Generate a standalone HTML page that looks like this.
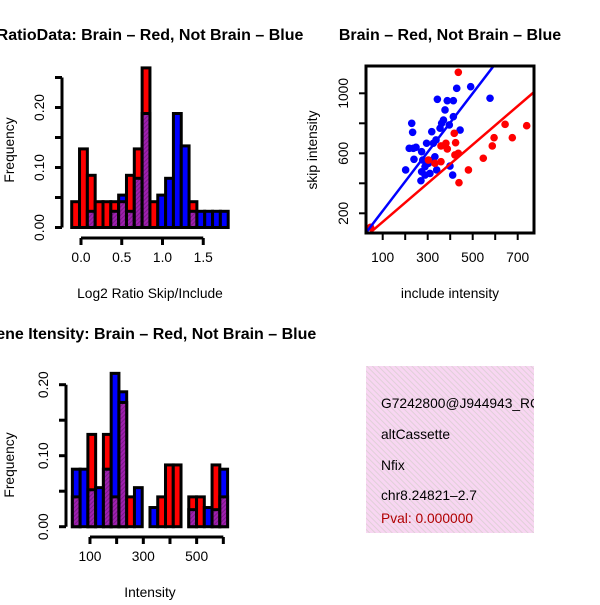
<!DOCTYPE html>
<html><head><meta charset="utf-8"><style>
body{margin:0;background:#fff}
svg text{font-family:"Liberation Sans",sans-serif}
</style></head><body>
<svg id="s" width="600" height="600" viewBox="0 0 600 600">
<defs>
<pattern id="ph" width="3" height="3" patternUnits="userSpaceOnUse" patternTransform="rotate(45)">
<rect width="3" height="3" fill="#a020b0"/><rect width="1" height="3" fill="#7a1a88"/></pattern>
<pattern id="pk" width="4" height="4" patternUnits="userSpaceOnUse" patternTransform="rotate(-45)">
<rect width="4" height="4" fill="#f8d6f2"/><rect width="1" height="4" fill="#e0d0d8"/></pattern>
<clipPath id="sc"><rect x="366" y="66" width="168" height="167"/></clipPath>
<clipPath id="ic"><rect x="366" y="366" width="168" height="167"/></clipPath>
</defs>
<g id="g1"></g>
<g id="g2"></g>
<g id="g3"></g>
<g clip-path="url(#ic)">
<rect x="366" y="366" width="168" height="167" fill="url(#pk)"/>
<text x="381" y="408" font-size="13.8">G7242800@J944943_RC</text>
<text x="381" y="439" font-size="13.8">altCassette</text>
<text x="381" y="470" font-size="13.8">Nfix</text>
<text x="381" y="500" font-size="13.8">chr8.24821–2.7</text>
<text x="381" y="523" font-size="13.8" fill="#b00000">Pval: 0.000000</text>
</g>
</svg>
<script>
// Histogram 1 (Log2 ratio)
const h1BinStart = -0.114, h1BinWidth = 0.096;
const h1Red  = [0.043,0.131,0.087,0.043,0.043,0.043,0.043,0.087,0.131,0.266,0.043,0,0,0,0,0.043,0,0,0,0];
const h1Blue = [0,0,0.027,0,0,0.027,0.054,0.027,0.082,0.19,0,0.054,0.082,0.19,0.136,0.027,0.027,0.027,0.027,0.027];
const h1XTicks = [0,0.5,1.0,1.5];
const h1XLabels = ["0.0","0.5","1.0","1.5"];
const h1YTicks = [0,0.05,0.1,0.15,0.2,0.25];
const h1YLabels = ["0.00","","0.10","","0.20",""];
// Histogram 2 (Intensity)
const h2BinStart = 34, h2BinWidth = 29.1;
const h2Red  = [0.042,0,0.130,0,0.130,0.042,0.175,0.042,0,0,0,0.042,0.087,0.087,0,0.042,0.042,0,0.087,0.042];
const h2Blue = [0.081,0.081,0.052,0.055,0.081,0.216,0.19,0,0.055,0,0.027,0,0,0,0,0.024,0,0.027,0.024,0.081];
const h2XTicks = [100,200,300,400,500,600];
const h2XLabels = ["100","","300","","500",""];
const h2YTicks = [0,0.05,0.1,0.15,0.2];
const h2YLabels = ["0.00","","0.10","","0.20"];
// Scatter
const blueX = [202,218,236,248,239,229,233,273,278,273,270,295,288,303,318,322,332,340,337,343,355,362,370,377,387,396,399,414,414,411,429,444,491,577,310,288,325];
const blueY = [489,633,633,640,560,800,740,611,555,477,417,667,511,533,744,555,577,489,689,960,767,800,822,889,951,789,515,951,844,455,1033,755,1044,967,466,455,667];
const redX = [436,46,303,359,359,381,387,418,424,421,436,481,439,547,587,595,644,676,740,332];
const redY = [1140,107,555,544,649,667,629,733,671,589,600,489,404,567,649,704,793,704,784,533];
const fitIntercept = [20,14];   // blue, red
const fitSlope = [1.96,1.287];
const scXTicks = [100,200,300,400,500,600,700];
const scXLabels = ["100","","300","","500","","700"];
const scYTicks = [200,400,600,800,1000];
const scYLabels = ["200","","600","","1000"];

const NS="http://www.w3.org/2000/svg";
const FS=13.8, TFS=16;
function mk(p,tag,a){const e=document.createElementNS(NS,tag);for(const k in a)e.setAttribute(k,a[k]);p.appendChild(e);return e;}
function txt(p,x,y,s,o){const e=mk(p,'text',Object.assign({x:x,y:y,'font-size':FS,'text-anchor':'middle'},o||{}));e.textContent=s;return e;}

function hist(g,o){
  const sx=v=>o.x0+(v-o.d0)*o.kx, sy=v=>o.y0-v*o.ky;
  for(let i=0;i<o.red.length;i++){
    const a=o.bs+i*o.bw, x=sx(a), w=o.bw*o.kx;
    const r=o.red[i], b=o.blue[i], hi=Math.max(r,b), lo=Math.min(r,b);
    if(hi<=0) continue;
    const col=r>=b?'#ff0000':'#0000ff';
    const e=mk(g,'rect',{x:x,y:sy(hi),width:w,height:hi*o.ky,fill:col,stroke:'#000','stroke-width':3});
    
    
    if(lo>0){const p=mk(g,'rect',{x:x,y:sy(lo),width:w,height:lo*o.ky,fill:'url(#ph)',stroke:'#000','stroke-width':3});
      
      }
  }
  const yt=o.yt;
  const ya=mk(g,'line',{x1:o.ax,x2:o.ax,y1:sy(yt[0]),y2:sy(yt[yt.length-1]),stroke:'#000','stroke-width':3});
  
  
  yt.forEach((v,i)=>{mk(g,'line',{x1:o.ax-7,x2:o.ax,y1:sy(v),y2:sy(v),stroke:'#000','stroke-width':3});
    if(o.yl[i]){const t=txt(g,o.ax-18,sy(v),o.yl[i],{transform:`rotate(-90 ${o.ax-18} ${sy(v)})`});
      
      }});
  const xt=o.xt, ay=o.ay;
  const xa=mk(g,'line',{x1:sx(xt[0]),x2:sx(xt[xt.length-1]),y1:ay,y2:ay,stroke:'#000','stroke-width':3});
  
  
  xt.forEach((v,i)=>{mk(g,'line',{x1:sx(v),x2:sx(v),y1:ay,y2:ay+7,stroke:'#000','stroke-width':3});
    if(o.xl[i]){const t=txt(g,sx(v),ay+24,o.xl[i]);
      
      }});
}
const g1=document.getElementById('g1');
hist(g1,{x0:81,d0:0,kx:81.5,y0:227.5,ky:600,bs:h1BinStart,bw:h1BinWidth,red:h1Red,blue:h1Blue,ax:62,ay:238,xt:h1XTicks,xl:h1XLabels,yt:h1YTicks,yl:h1YLabels});
let t;
t=txt(g1,150,40,"RatioData: Brain – Red, Not Brain – Blue",{'font-size':TFS,'font-weight':'bold'});


t=txt(g1,150,298,"Log2 Ratio Skip/Include");


t=txt(g1,14,150,"Frequency",{transform:'rotate(-90 14 150)'});



const g3=document.getElementById('g3');
hist(g3,{x0:63.3,d0:0,kx:0.2667,y0:526.7,ky:710,bs:h2BinStart,bw:h2BinWidth,red:h2Red,blue:h2Blue,ax:66,ay:537,xt:h2XTicks,xl:h2XLabels,yt:h2YTicks,yl:h2YLabels});
t=txt(g3,150,339,"Gene Itensity: Brain – Red, Not Brain – Blue",{'font-size':TFS,'font-weight':'bold'});


t=txt(g3,150,597,"Intensity");


t=txt(g3,14,465,"Frequency",{transform:'rotate(-90 14 465)'});



const g2=document.getElementById('g2');
const px=v=>360.2+v*0.225, py=v=>243.3-v*0.15;
const cl=mk(g2,'g',{'clip-path':'url(#sc)'});
blueX.forEach((x,i)=>{const c=mk(cl,'circle',{cx:px(x),cy:py(blueY[i]),r:3.8,fill:'#0000ff'});
  
  });
redX.forEach((x,i)=>{const c=mk(cl,'circle',{cx:px(x),cy:py(redY[i]),r:3.8,fill:'#ff0000'});
  
  });
['#0000ff','#ff0000'].forEach((col,i)=>{const xa=0,xb=800;
  const l=mk(cl,'line',{x1:px(xa),y1:py(fitIntercept[i]+fitSlope[i]*xa),x2:px(xb),y2:py(fitIntercept[i]+fitSlope[i]*xb),stroke:col,'stroke-width':2.5});
  
  });
const bx=mk(g2,'rect',{x:366,y:66,width:168,height:167,fill:'none',stroke:'#000','stroke-width':3});


scXTicks.forEach((v,i)=>{mk(g2,'line',{x1:px(v),x2:px(v),y1:233,y2:240,stroke:'#000','stroke-width':2});
  if(scXLabels[i]){const e=txt(g2,px(v),262,scXLabels[i]);
    
    }});
scYTicks.forEach((v,i)=>{mk(g2,'line',{x1:359,x2:366,y1:py(v),y2:py(v),stroke:'#000','stroke-width':2});
  if(scYLabels[i]){const e=txt(g2,348,py(v),scYLabels[i],{transform:`rotate(-90 348 ${py(v)})`});
    
    }});
t=txt(g2,450,40,"Brain – Red, Not Brain – Blue",{'font-size':TFS,'font-weight':'bold'});


t=txt(g2,450,298,"include intensity");


t=txt(g2,317,150,"skip intensity",{transform:'rotate(-90 317 150)'});


</script>
</body></html>
